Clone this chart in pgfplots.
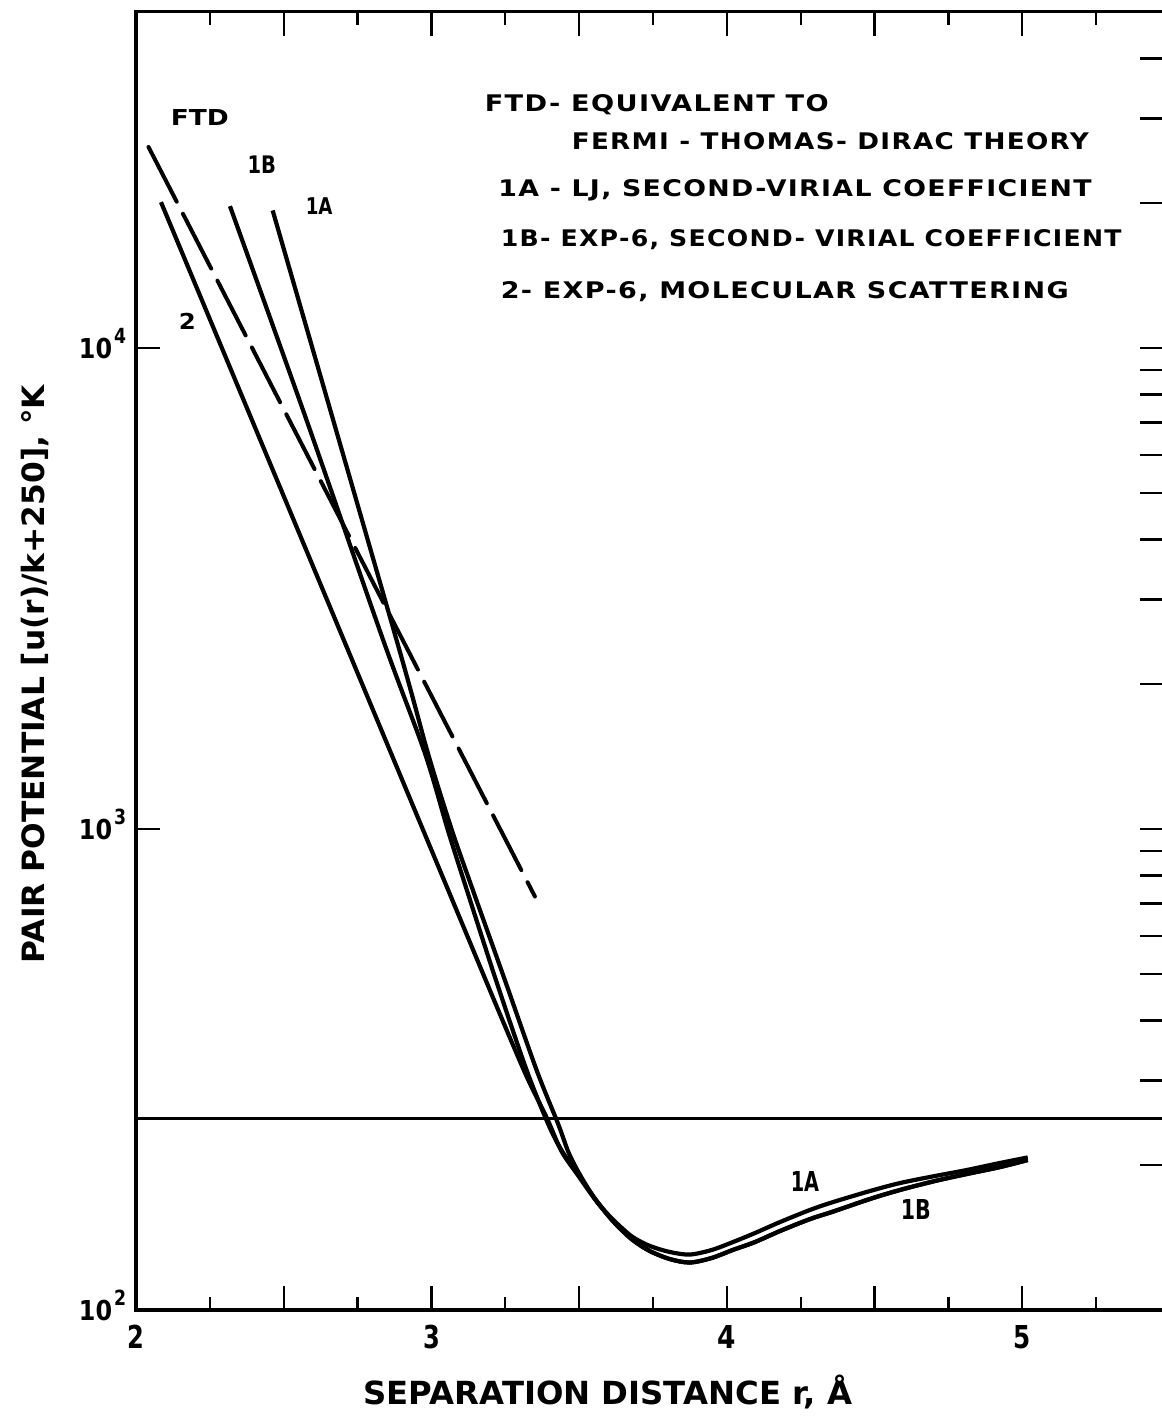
\documentclass[border=0pt]{standalone}
\usepackage{fontspec}
\setmainfont{DejaVu Sans}
\newfontfamily\wide{DejaVu Sans}[LetterSpace=5]
\usepackage{graphicx}
\usepackage{pgfplots}
\pgfplotsset{compat=1.18}
% fit text to a given width and cap height
\newcommand{\lt}[3]{\resizebox{#1}{#2}{\smash{\bfseries #3}\vphantom{E}}}
\begin{document}
\begin{tikzpicture}
\begin{axis}[
  at={(0,0)}, anchor=south west, scale only axis,
  width=258.5pt, height=324.55pt,
  xmin=2, xmax=5.5, ymin=100, ymax=50000,
  ymode=log, log basis y=10,
  xtick={2,2.5,3,3.5,4,4.5,5,5.5},
  xticklabels={\lt{4.2pt}{5.75pt}{2},,\lt{4.2pt}{5.75pt}{3},,\lt{4.6pt}{5.75pt}{4},,\lt{4.3pt}{5.75pt}{5},},
  minor x tick num=1,
  ytick={100,1000,10000},
  yticklabels={
    {\lt{8.3pt}{5pt}{10}\hspace{0.5pt}\raisebox{3.65pt}{\lt{3pt}{3.8pt}{2}}},
    {\lt{8.3pt}{5pt}{10}\hspace{0.5pt}\raisebox{3.65pt}{\lt{3pt}{3.8pt}{3}}},
    {\lt{8.3pt}{5pt}{10}\hspace{0.5pt}\raisebox{3.65pt}{\lt{3pt}{3.8pt}{4}}}},
  tick align=inside, xtick pos=both, ytick pos=left,
  major tick length=6pt, minor tick length=3.3pt,
  every tick/.append style={black, line width=0.6pt},
  axis line style={line width=0.8pt},
  xticklabel style={anchor=base, yshift=-9.6pt, inner sep=0pt},
  yticklabel style={anchor=base east, yshift=-2.65pt, xshift=-2.25pt, inner sep=0pt},
]
% right-hand ticks (longer, as in the original)
\pgfplotsinvokeforeach{200,300,400,500,600,700,800,900,1000,2000,3000,4000,5000,6000,7000,8000,9000,10000,20000,30000,40000}{
  \draw[black, line width=0.6pt] (axis cs:5.5,#1) -- ([xshift=-7.5pt]axis cs:5.5,#1);}
% u = 0 reference line (250 K)
\addplot[black, line width=0.55pt] coordinates {(2,250) (5.5,250)};
% FTD
\addplot[black, line width=1pt, line cap=round, dash pattern=on 15.4pt off 3.4pt]
  coordinates {(2.0423,26180) (3.3503,724)};
% 1A
\addplot[black, line width=1.05pt, smooth] coordinates {
  (2.4626,19320) (2.8822,2468) (2.9882,1437) (3.0694,994) (3.1404,746)
  (3.2487,485) (3.3560,315.3) (3.4291,243.5) (3.4650,212) (3.5050,190) (3.5600,168)
  (3.6176,153.5) (3.6800,142)
  (3.7394,135.9) (3.8071,132.0) (3.8748,130.4) (3.9492,133.3) (4.0203,138.4)
  (4.0948,144.5) (4.1794,152.3) (4.2809,161.4) (4.3587,167.6) (4.4839,176.7)
  (4.5854,183.6) (4.7039,189.9) (4.8112,195.4) (4.9239,202.1) (5.0186,207.6)};
% 1B
\addplot[black, line width=1.05pt, smooth] coordinates {
  (2.3181,19720) (2.5777,7071) (2.8369,2468) (2.9780,1437) (3.0558,994)
  (3.1201,746) (3.2217,478.2) (3.3222,315.3) (3.3953,243.5) (3.4400,215) (3.4950,192) (3.5550,170)
  (3.6176,152.3) (3.6800,140)
  (3.7394,132.6) (3.8071,127.6) (3.8748,125.5) (3.9492,128.3)
  (4.0203,133.3) (4.0948,138.4) (4.1794,145.9) (4.2809,154.5) (4.3587,160.1)
  (4.4839,170.1) (4.5854,177.6) (4.7039,185.4) (4.8112,191.7) (4.9239,198.2)
  (5.0186,205.0)};
% 2
\addplot[black, line width=1.05pt, smooth] coordinates {
  (2.0846,20100) (2.5550,4085) (3.0569,746) (3.2318,412.3) (3.3232,305)
  (3.3909,250.6) (3.4400,214) (3.4950,191) (3.5550,169.5) (3.6176,152.3) (3.6800,140)
  (3.7394,132.6) (3.8071,127.6)
  (3.8748,125.5) (3.9492,128.3) (4.0203,133.3) (4.0948,138.4) (4.1794,145.9)
  (4.2809,154.5) (4.3587,160.1) (4.4839,170.1) (4.5854,177.6) (4.7039,185.4)
  (4.8112,191.7) (4.9239,198.2) (5.0186,205.0)};
\end{axis}
% curve labels
\node[anchor=base west,inner sep=0] at (8.5pt,296pt) {\lt{14.5pt}{4pt}{FTD}};
\node[anchor=base west,inner sep=0] at (27.7pt,284.2pt) {\lt{7.1pt}{4.4pt}{1B}};
\node[anchor=base west,inner sep=0] at (42.25pt,273.75pt) {\lt{6.7pt}{4.2pt}{1A}};
\node[anchor=base west,inner sep=0] at (10.5pt,245pt) {\lt{4.25pt}{4pt}{2}};
\node[anchor=base west,inner sep=0] at (163.5pt,29.6pt) {\lt{7.1pt}{5pt}{1A}};
\node[anchor=base west,inner sep=0] at (191pt,22.5pt) {\lt{7.5pt}{5pt}{1B}};
% key text
\node[anchor=base west,inner sep=0] at (87pt,299.6pt) {\lt{86pt}{4.17pt}{\wide FTD- EQUIVALENT TO}};
\node[anchor=base west,inner sep=0] at (108.75pt,290pt) {\lt{129.25pt}{4.17pt}{\wide FERMI - THOMAS- DIRAC THEORY}};
\node[anchor=base west,inner sep=0] at (90.4pt,278.3pt) {\lt{148.3pt}{4.17pt}{\wide 1A - LJ, SECOND-VIRIAL COEFFICIENT}};
\node[anchor=base west,inner sep=0] at (91pt,265.8pt) {\lt{155.2pt}{4.17pt}{\wide 1B- EXP-6, SECOND- VIRIAL COEFFICIENT}};
\node[anchor=base west,inner sep=0] at (91pt,252.9pt) {\lt{142pt}{4.17pt}{\wide 2- EXP-6, MOLECULAR SCATTERING}};
% axis titles
\node[anchor=base west,inner sep=0] at (56.7pt,-23.75pt) {\lt{122.2pt}{5.8pt}{SEPARATION DISTANCE r, Å}};
\node[rotate=90,anchor=base west,inner sep=0] at (-22.75pt,86.5pt) {\lt{144.6pt}{5.6pt}{PAIR POTENTIAL [u(r)/k+250], °K}};
\pgfresetboundingbox
\path[use as bounding box] (-34pt,-27pt) rectangle (256.25pt,327.5pt);
\end{tikzpicture}
\end{document}
